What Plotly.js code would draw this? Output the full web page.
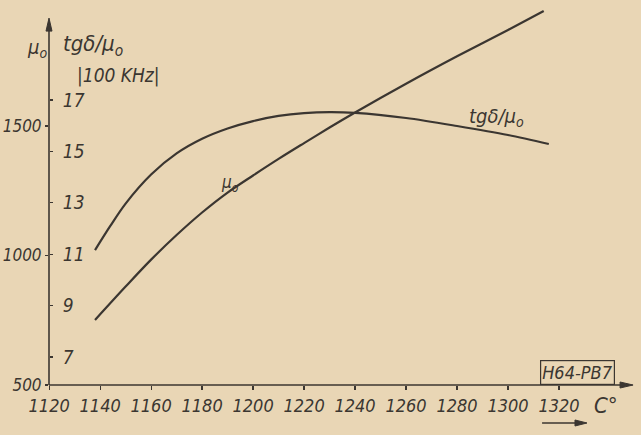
<!DOCTYPE html>
<html>
<head>
<meta charset="utf-8">
<script src="https://cdn.plot.ly/plotly-3.0.1.min.js"></script>
<style>
  html, body { margin: 0; padding: 0; background: #e9d6b5; }
  #chart { width: 641px; height: 435px; }
</style>
</head>
<body>
<div id="chart"></div>
<script>
// Temperature (°C) sample points for the μ0 curve
const tempsMu = [1138, 1150, 1160, 1170, 1180, 1190, 1200, 1210, 1220, 1230, 1240, 1260, 1280, 1300, 1314];
// Initial permeability μ0
const mu0 = [751, 880, 984, 1079, 1166, 1243, 1309, 1373, 1434, 1494, 1552, 1663, 1769, 1871, 1944];

// Temperature (°C) sample points for the tgδ/μ0 curve
const tempsTg = [1138, 1144, 1150, 1160, 1170, 1180, 1190, 1200, 1210, 1220, 1230, 1240, 1260, 1280, 1300, 1316];
// Loss factor tgδ/μ0 (100 kHz)
const tgMu = [11.16, 12.10, 12.97, 14.10, 14.92, 15.49, 15.89, 16.18, 16.38, 16.49, 16.53, 16.50, 16.30, 15.99, 15.64, 15.29];

// Tick labels
const xTicks = [1120, 1140, 1160, 1180, 1200, 1220, 1240, 1260, 1280, 1300, 1320];
const muTicks = [500, 1000, 1500];
const tgTicks = [7, 9, 11, 13, 15, 17];

const INK = '#3b3631';
const BG = '#e9d6b5';
const FAM = '"DejaVu Sans Condensed", "Liberation Sans Narrow", "DejaVu Sans", sans-serif';

const traces = [
  {
    x: tempsMu, y: mu0, type: 'scatter', mode: 'lines', yaxis: 'y',
    line: { color: INK, width: 2.2, shape: 'spline', smoothing: 0.9 },
    hoverinfo: 'skip'
  },
  {
    x: tempsTg, y: tgMu, type: 'scatter', mode: 'lines', yaxis: 'y2',
    line: { color: INK, width: 2.2, shape: 'spline', smoothing: 0.9 },
    hoverinfo: 'skip'
  }
];

function ann(text, x, y, size, extra) {
  return Object.assign({
    text: text, xref: 'paper', yref: 'paper', x: x, y: y,
    showarrow: false, xanchor: 'center', yanchor: 'middle',
    font: { family: FAM, size: size, color: INK, style: 'italic' }
  }, extra || {});
}

function arrowHead(xa, ya, path) {
  return {
    type: 'path', xref: 'paper', yref: 'paper',
    xsizemode: 'pixel', ysizemode: 'pixel', xanchor: xa, yanchor: ya,
    path: path, fillcolor: INK, line: { color: INK, width: 1 }
  };
}

const layout = {
  width: 641, height: 435,
  margin: { l: 49, r: 5, t: 4, b: 50 },
  paper_bgcolor: BG, plot_bgcolor: BG,
  showlegend: false,
  font: { family: FAM, color: INK, style: 'italic' },
  xaxis: {
    range: [1119.95, 1350.2],
    tickvals: xTicks, ticktext: xTicks.map(String),
    ticks: 'outside', ticklen: 4, tickwidth: 1.2, tickcolor: INK,
    showgrid: false, zeroline: false, showline: false,
    tickfont: { family: FAM, size: 18, color: INK, style: 'italic' }
  },
  yaxis: {
    range: [500, 1971],
    tickvals: muTicks, ticktext: muTicks.map(String),
    ticks: 'outside', ticklen: 3, tickwidth: 1.2, tickcolor: INK,
    showgrid: false, zeroline: false, showline: false,
    tickfont: { family: FAM, size: 17, color: INK, style: 'italic' }
  },
  yaxis2: {
    range: [5.911, 20.736],
    overlaying: 'y', side: 'right', anchor: 'free', position: 0,
    tickvals: tgTicks, ticktext: tgTicks.map(String),
    ticks: 'outside', ticklen: 3, tickwidth: 1.2, tickcolor: INK,
    ticklabelstandoff: 6,
    showgrid: false, zeroline: false, showline: false,
    tickfont: { family: FAM, size: 19, color: INK, style: 'italic' }
  },
  shapes: [
    // y axis line + arrowhead
    { type: 'line', xref: 'paper', yref: 'paper', x0: 0, x1: 0, y0: 0, y1: 0.955,
      line: { color: INK, width: 1.6 } },
    arrowHead(0, 0.963, 'M -3 -13 L 0 0 L 3 -13 Z'),
    // x axis line + arrowhead
    { type: 'line', xref: 'paper', yref: 'paper', x0: 0, x1: 0.985, y0: 0, y1: 0,
      line: { color: INK, width: 1.6 } },
    arrowHead(0.995, 0, 'M -13 -3 L 0 0 L -13 3 Z'),
    // small direction arrow under C°
    { type: 'line', xref: 'paper', yref: 'paper', x0: 0.84, x1: 0.905, y0: -0.0997, y1: -0.0997,
      line: { color: INK, width: 1.5 } },
    arrowHead(0.9165, -0.0997, 'M -12 -3 L 0 0 L -12 3 Z')
  ],
  annotations: [
    ann('μ<sub>o</sub>', -0.0204, 0.8845, 20),
    ann('tgδ/μ<sub>o</sub>', 0.075, 0.892, 22),
    ann('|100 KHz|', 0.1184, 0.8136, 19),
    ann('μ<sub>o</sub>', 0.308, 0.530, 17),
    ann('tgδ/μ<sub>o</sub>', 0.763, 0.703, 20),
    ann('H64-PB7', 0.8995, 0.0315, 18, { bordercolor: INK, borderwidth: 1.2, borderpad: 1 }),
    ann('C°', 0.949, -0.055, 22)
  ]
};

Plotly.newPlot('chart', traces, layout, { staticPlot: true, displayModeBar: false });
</script>
</body>
</html>
